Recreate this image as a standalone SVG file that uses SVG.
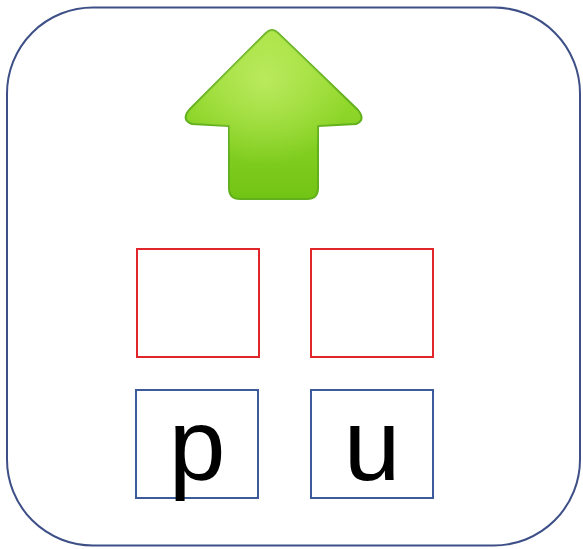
<svg xmlns="http://www.w3.org/2000/svg" width="583" height="549" viewBox="0 0 583 549">
<defs>
<style>
.red{fill:#fff;stroke:#e0262b;stroke-width:2}
.blue{fill:#fff;stroke:#3b5b9b;stroke-width:2}
.letter{font-family:"Liberation Sans",Arial,sans-serif;font-size:102px;fill:#000;text-anchor:middle}
</style>
<linearGradient id="g" x1="0" y1="0" x2="0" y2="1">
<stop offset="0" stop-color="#a6e23c"/>
<stop offset="0.5" stop-color="#8dd528"/>
<stop offset="1" stop-color="#72c414"/>
</linearGradient>
<radialGradient id="hl" cx="0.45" cy="0.3" r="0.5">
<stop offset="0" stop-color="#c8f070" stop-opacity="0.7"/>
<stop offset="1" stop-color="#c8f070" stop-opacity="0"/>
</radialGradient>
</defs>
<rect id="frame" x="7" y="7.5" width="573" height="538" rx="86" ry="86" fill="#fff" stroke="#3d4f86" stroke-width="2"/>
<g id="arrow">
<path d="M266,33 Q272,27 278,33 L358,110 Q366,120 356,124 L318,126 L318,188 Q318,199 307,199 L240,199 Q229,199 229,188 L229,126 L192,124 Q181,120 189,110 Z" fill="url(#g)" stroke="#62b01c" stroke-width="2" stroke-linejoin="round"/>
<path d="M266,33 Q272,27 278,33 L358,110 Q366,120 356,124 L318,126 L318,188 Q318,199 307,199 L240,199 Q229,199 229,188 L229,126 L192,124 Q181,120 189,110 Z" fill="url(#hl)"/>
</g>
<g id="box-r1"><rect class="red" x="137" y="249" width="122" height="108"/></g>
<g id="box-r2"><rect class="red" x="311" y="249" width="122" height="108"/></g>
<g id="box-p"><rect class="blue" x="136" y="390" width="122" height="108"/><text class="letter" x="197" y="480">p</text></g>
<g id="box-u"><rect class="blue" x="311" y="390" width="122" height="108"/><text class="letter" x="372" y="480">u</text></g>
</svg>
